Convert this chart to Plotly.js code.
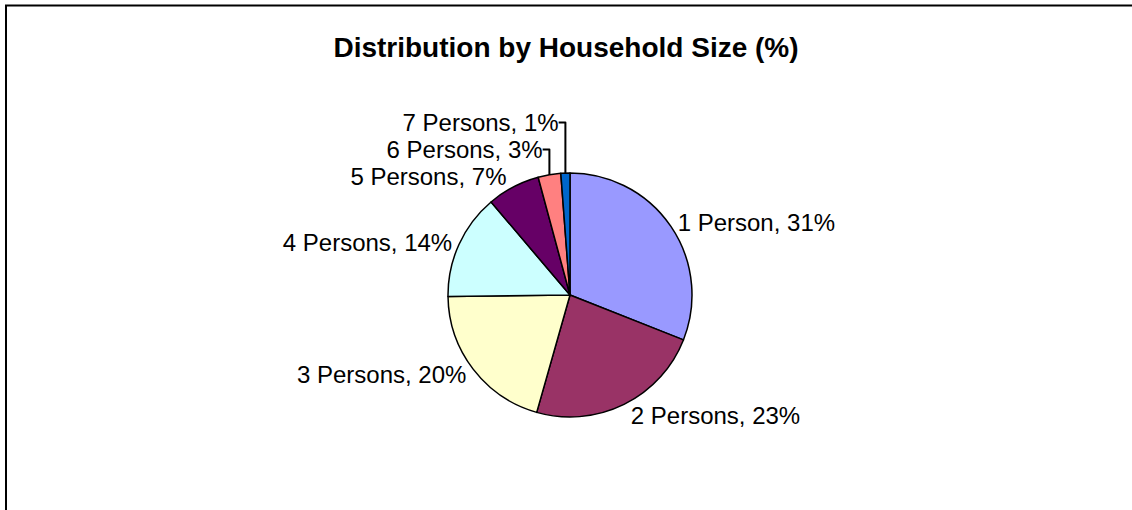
<!DOCTYPE html>
<html>
<head>
<meta charset="utf-8">
<script src="https://cdn.plot.ly/plotly-3.0.1.min.js"></script>
<style>
html,body{margin:0;padding:0;background:#fff;}
#chart{width:1132px;height:510px;}
</style>
</head>
<body>
<div id="chart"></div>
<script>
const categories = ["1 Person", "2 Persons", "3 Persons", "4 Persons", "5 Persons", "6 Persons", "7 Persons"];
const shares = [31.0, 23.4, 20.4, 14.0, 7.0, 3.0, 1.2];
const sliceColors = ["#9999FF", "#993366", "#FFFFCC", "#CCFFFF", "#660066", "#FF8080", "#0066CC"];
const chartTitle = "Distribution by Household Size (%)";

const W = 1132, H = 510;
const cx = 570, cy = 295, R = 122;

const trace = {
  type: "pie",
  labels: categories,
  values: shares,
  sort: false,
  direction: "clockwise",
  rotation: 0,
  marker: {colors: sliceColors, line: {color: "#000000", width: 1.5}},
  texttemplate: "%{label}, %{percent:.0%}",
  textposition: "outside",
  outsidetextfont: {family: "Liberation Sans, Arial, sans-serif", size: 24, color: "#000000"},
  hoverinfo: "label+percent",
  domain: {x: [(cx - R) / W, (cx + R) / W], y: [1 - (cy + R) / H, 1 - (cy - R) / H]},
  automargin: false,
  showlegend: false
};

const layout = {
  width: W, height: H,
  margin: {l: 0, r: 0, t: 0, b: 0},
  paper_bgcolor: "#ffffff",
  title: {
    text: "<b>" + chartTitle + "</b>",
    font: {family: "Liberation Sans, Arial, sans-serif", size: 28, color: "#000000"},
    x: 0.5, xanchor: "center", y: 1 - 47 / H, yanchor: "middle", yref: "paper"
  },
  shapes: [
    {type: "line", xref: "paper", yref: "paper", x0: 6 / W, x1: 6 / W, y0: -0.05, y1: 1 - 5.5 / H, line: {color: "#000", width: 2}},
    {type: "line", xref: "paper", yref: "paper", x0: 5 / W, x1: 1.05, y0: 1 - 5.5 / H, y1: 1 - 5.5 / H, line: {color: "#000", width: 2}}
  ]
};

Plotly.newPlot("chart", [trace], layout, {displayModeBar: false, staticPlot: true});
</script>
</body>
</html>
